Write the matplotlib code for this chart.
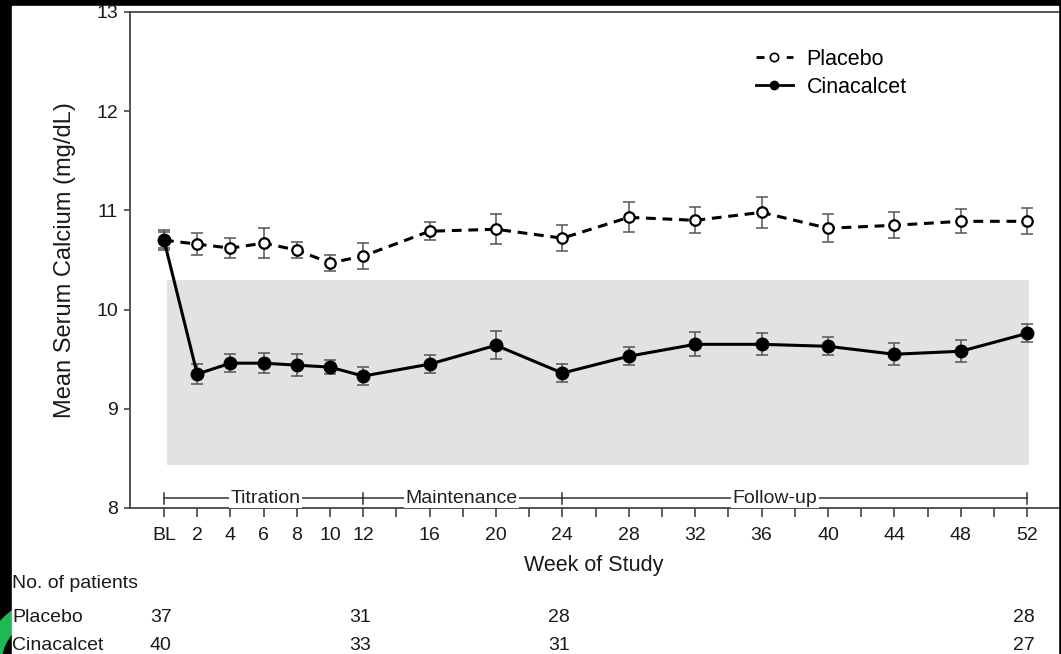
import matplotlib
matplotlib.use('Agg')
import matplotlib.pyplot as plt
from matplotlib.patches import Rectangle, Circle
from matplotlib.lines import Line2D
import matplotlib.transforms as mtransforms

plt.rcParams['font.family'] = ['Liberation Sans', 'DejaVu Sans']

# --- data ---
weeks = [0, 2, 4, 6, 8, 10, 12, 16, 20, 24, 28, 32, 36, 40, 44, 48, 52]
placebo = [10.70, 10.66, 10.62, 10.67, 10.60, 10.47, 10.54, 10.79, 10.81,
           10.72, 10.93, 10.90, 10.98, 10.82, 10.85, 10.89, 10.89]
placebo_se = [0.10, 0.11, 0.10, 0.15, 0.08, 0.08, 0.13, 0.09, 0.15,
              0.13, 0.15, 0.13, 0.16, 0.14, 0.13, 0.12, 0.13]
cinacalcet = [10.70, 9.35, 9.46, 9.46, 9.44, 9.42, 9.33, 9.45, 9.64,
              9.36, 9.53, 9.65, 9.65, 9.63, 9.55, 9.58, 9.76]
cinacalcet_se = [0.08, 0.10, 0.09, 0.10, 0.11, 0.07, 0.09, 0.09, 0.14,
                 0.09, 0.09, 0.12, 0.11, 0.09, 0.11, 0.11, 0.09]

tick_weeks = list(range(0, 53, 2))
tick_labels = {0: 'BL', 2: '2', 4: '4', 6: '6', 8: '8', 10: '10', 12: '12',
               16: '16', 20: '20', 24: '24', 28: '28', 32: '32', 36: '36',
               40: '40', 44: '44', 48: '48', 52: '52'}

phase_names = ['Titration', 'Maintenance', 'Follow-up']
phase_edges = [0, 12, 24, 52]
phase_label_x = [6.1, 17.9, 36.8]

normal_range = (8.43, 10.3)

count_weeks = [0, 12, 24, 52]
n_placebo = [37, 31, 28, 28]
n_cinacalcet = [40, 33, 31, 27]

# --- figure ---
W, H = 1061, 654
fig = plt.figure(figsize=(W / 100, H / 100), dpi=100)
fig.patch.set_facecolor('black')

# green ring in the black strip, then the white page over it
fig.patches.append(Circle((50, H - 665), 66, transform=None, color='#1db954', zorder=0))
fig.patches.append(Circle((50, H - 665), 48, transform=None, color='black', zorder=0.5))
fig.patches.append(Rectangle((12 / W, 0), (1058 - 12) / W, (H - 6) / H,
                             transform=fig.transFigure, color='white', zorder=1))

ax = fig.add_axes([130 / W, 1 - 508 / H, (1058 - 130) / W, (508 - 12) / H])
ax.set_zorder(2)
ax.patch.set_alpha(0)

ax.set_xlim(-2.05, 53.86)
ax.set_ylim(8, 13)

# shaded normal range
ax.add_patch(Rectangle((0.2, normal_range[0]), 52.1 - 0.2,
                       normal_range[1] - normal_range[0],
                       facecolor='#e2e2e2', edgecolor='none', zorder=0))

ecol = '#555555'
ax.errorbar(weeks, placebo, yerr=placebo_se, fmt='none', ecolor=ecol,
            elinewidth=1.1, capsize=4, capthick=1.1, zorder=2)
ax.plot(weeks, placebo, color='black', linestyle=(0, (3.2, 2.2)), lw=2.2,
        marker='o', markersize=7.5, markerfacecolor='white',
        markeredgecolor='black', markeredgewidth=1.6, zorder=3)
ax.errorbar(weeks, cinacalcet, yerr=cinacalcet_se, fmt='none', ecolor=ecol,
            elinewidth=1.1, capsize=4, capthick=1.1, zorder=4)
ax.plot(weeks, cinacalcet, color='black', linestyle='-', lw=2.2,
        marker='o', markersize=9, markerfacecolor='black',
        markeredgecolor='black', zorder=5)

# phase brackets
yb = 8.1
for i, name in enumerate(phase_names):
    ax.plot([phase_edges[i], phase_edges[i + 1]], [yb, yb], color='#333333', lw=1.1, zorder=3)
    ax.text(phase_label_x[i], yb, name, ha='center', va='center', fontsize=14,
            color='#222222', zorder=4,
            bbox=dict(facecolor='white', edgecolor='none', pad=1.0))
for e in phase_edges:
    ax.plot([e, e], [yb - 0.055, yb + 0.055], color='#333333', lw=1.1, zorder=3)

# axes styling
ax.spines['right'].set_visible(False)
for side in ['left', 'bottom', 'top']:
    ax.spines[side].set_color('#444444')
    ax.spines[side].set_linewidth(1.3)

ax.set_yticks([8, 9, 10, 11, 12, 13])
ax.set_yticklabels(['8', '9', '10', '11', '12', '13'], fontsize=14)
ax.set_xticks(tick_weeks)
ax.set_xticklabels([tick_labels.get(w, '') for w in tick_weeks], fontsize=14)
ax.tick_params(axis='both', direction='out', width=1.2, color='#444444',
               labelcolor='#1a1a1a')
ax.tick_params(axis='x', length=6.5, pad=7)
ax.tick_params(axis='y', length=4.5, pad=4)

ax.set_xlabel('Week of Study', fontsize=15.5, color='#1a1a1a', labelpad=8)
ax.set_ylabel('Mean Serum Calcium (mg/dL)', fontsize=17, color='#1a1a1a', labelpad=15)

# legend
handles = [
    Line2D([], [], color='black', linestyle=(0, (2.9, 8)), lw=2, marker='o',
           markersize=6, markerfacecolor='white', markeredgecolor='black',
           markeredgewidth=1.2),
    Line2D([], [], color='black', linestyle='-', lw=2, marker='o',
           markersize=6, markerfacecolor='black'),
]
ax.legend(handles, ['Placebo', 'Cinacalcet'], loc='upper left',
          bbox_to_anchor=((747 - 130) / (1058 - 130), 1 - (40 - 12) / 496),
          frameon=False, fontsize=15.5, handlelength=1.72, handletextpad=0.65,
          labelspacing=0.33, borderaxespad=0)

# number of patients table
tr = mtransforms.blended_transform_factory(ax.transData, fig.transFigure)
fig.text(12 / W, 1 - 583 / H, 'No. of patients', fontsize=14, va='center',
         ha='left', color='#1a1a1a', zorder=3)
fig.text(12 / W, 1 - 617 / H, 'Placebo', fontsize=14, va='center',
         ha='left', color='#1a1a1a', zorder=3)
fig.text(12 / W, 1 - 645 / H, 'Cinacalcet', fontsize=14, va='center',
         ha='left', color='#1a1a1a', zorder=3)
for w, a, b in zip(count_weeks, n_placebo, n_cinacalcet):
    ax.text(w - 0.2, 1 - 617 / H, str(a), transform=tr, fontsize=14,
            ha='center', va='center', color='#1a1a1a', clip_on=False)
    ax.text(w - 0.2, 1 - 645 / H, str(b), transform=tr, fontsize=14,
            ha='center', va='center', color='#1a1a1a', clip_on=False)

fig.savefig('out.png', dpi=100, facecolor=fig.get_facecolor())
